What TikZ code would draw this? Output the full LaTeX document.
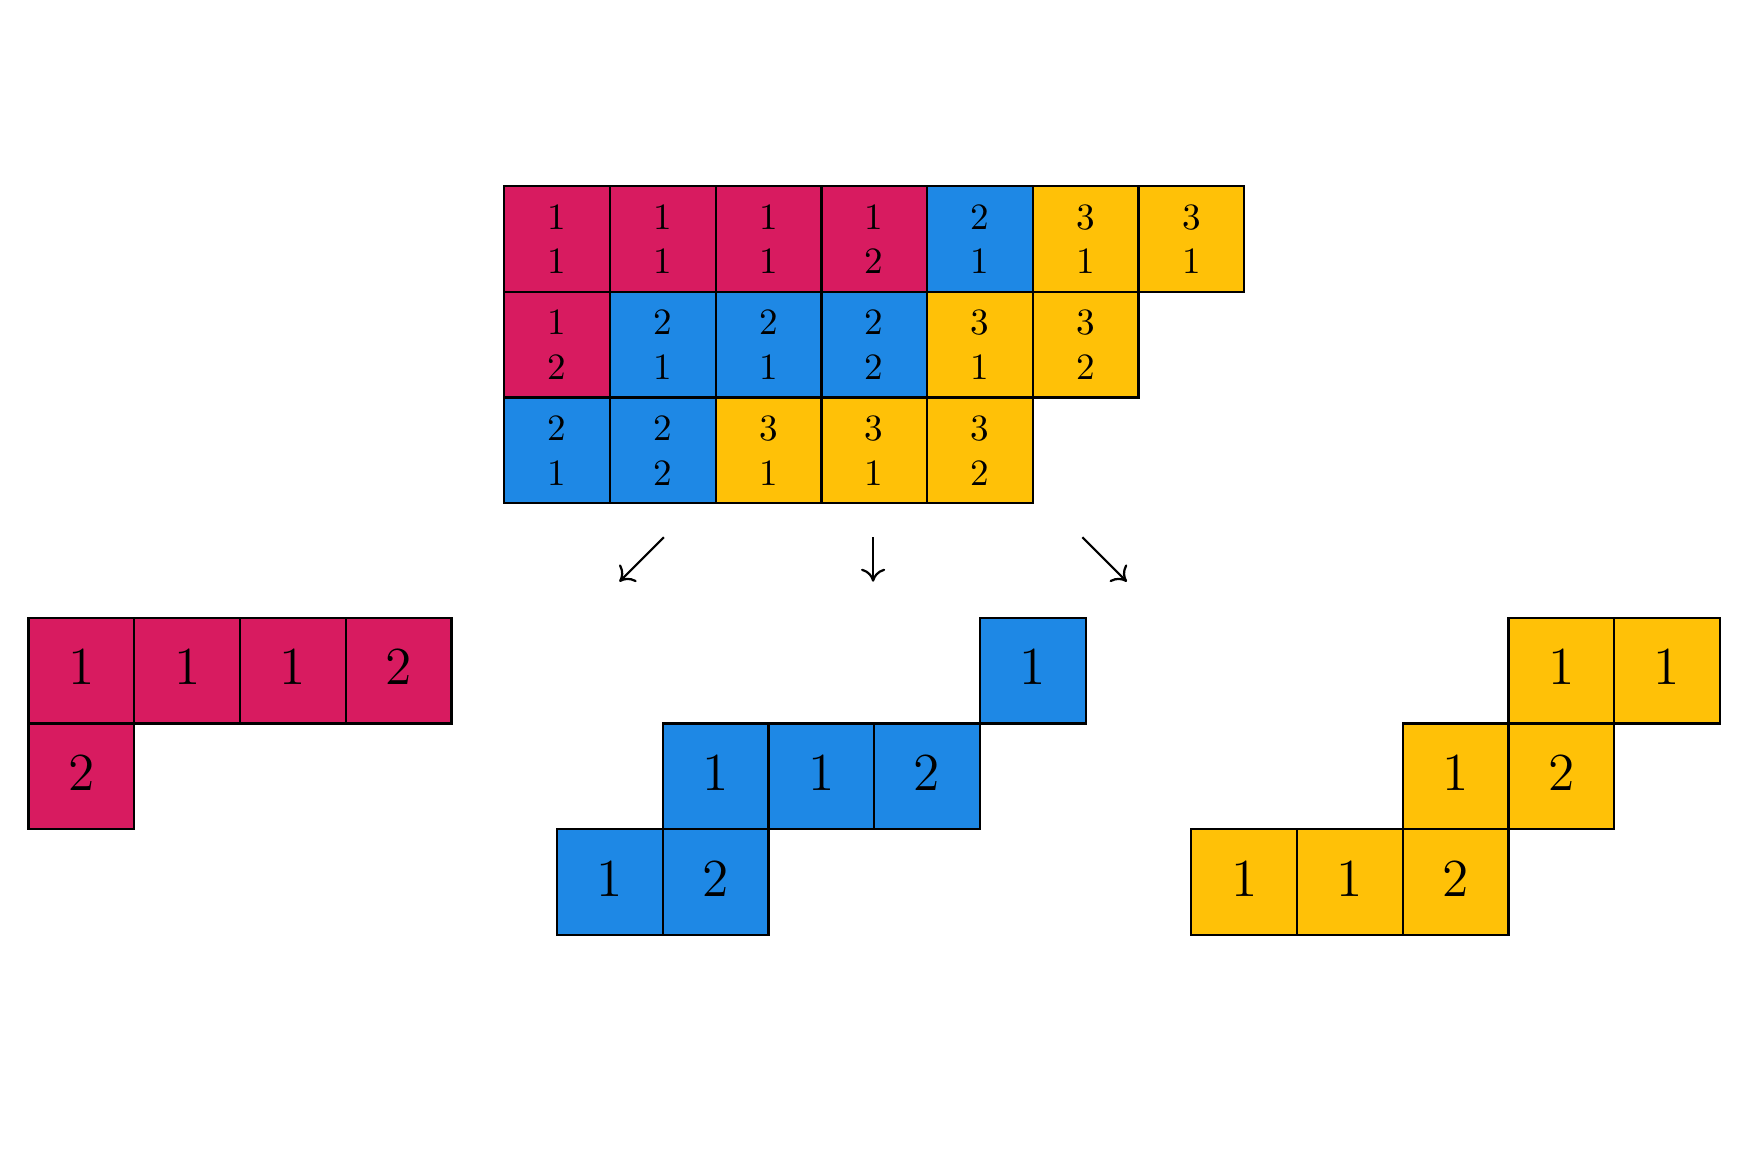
\documentclass[tikz,border=0pt]{standalone}
\usetikzlibrary{arrows.meta}
\definecolor{cred}{HTML}{D81B60}
\definecolor{cblue}{HTML}{1E88E5}
\definecolor{cyel}{HTML}{FFC107}
\tikzset{
  cell/.style={draw=black, line width=0.6pt, minimum width=1cm, minimum height=1cm,
    inner sep=0pt, anchor=north west},
  smallcell/.style={cell, align=center, font=\normalsize},
  bigcell/.style={cell, font=\Large, text depth=2pt},
  arr/.style={line width=0.6pt, -{Computer Modern Rightarrow[length=3.5pt,width=6.5pt]}}
}
\begin{document}
\begin{tikzpicture}
\useasboundingbox (-0.26,-5.14) rectangle (16.22,5.834);
% top table
\foreach \c/\r/\col/\a/\b [count=\k] in {
  1/1/cred/1/1, 2/1/cred/1/1, 3/1/cred/1/1, 4/1/cred/1/2, 5/1/cblue/2/1, 6/1/cyel/3/1, 7/1/cyel/3/1,
  1/2/cred/1/2, 2/2/cblue/2/1, 3/2/cblue/2/1, 4/2/cblue/2/2, 5/2/cyel/3/1, 6/2/cyel/3/2,
  1/3/cblue/2/1, 2/3/cblue/2/2, 3/3/cyel/3/1, 4/3/cyel/3/1, 5/3/cyel/3/2}
  \node[smallcell, fill=\col] (t\k) at (3.5+\c, 5.084-\r) {\a\\\b};
% bottom shapes
\foreach \x/\y/\col/\d [count=\k] in {
  0/0/cred/1, 1/0/cred/1, 2/0/cred/1, 3/0/cred/2, 0/-1/cred/2,
  9/0/cblue/1, 6/-1/cblue/1, 7/-1/cblue/1, 8/-1/cblue/2, 5/-2/cblue/1, 6/-2/cblue/2,
  14/0/cyel/1, 15/0/cyel/1, 13/-1/cyel/1, 14/-1/cyel/2, 11/-2/cyel/1, 12/-2/cyel/1, 13/-2/cyel/2}
  \node[bigcell, fill=\col] (b\k) at (\x,\y) {\d};
% arrows
\coordinate (a1s) at (6.02,0.751);
\coordinate (a1e) at (5.6,0.331);
\coordinate (a2s) at (8,0.751);
\coordinate (a2e) at (8,0.331);
\coordinate (a3s) at (9.98,0.751);
\coordinate (a3e) at (10.4,0.331);
\draw[arr] (a1s) -- (a1e);
\draw[arr] (a2s) -- (a2e);
\draw[arr] (a3s) -- (a3e);
\end{tikzpicture}
\end{document}
